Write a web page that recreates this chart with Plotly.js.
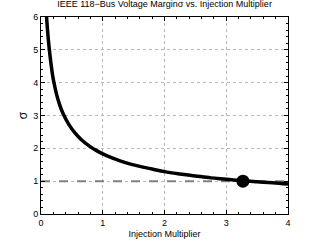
<!DOCTYPE html>
<html><head><meta charset="utf-8">
<script src="https://cdn.plot.ly/plotly-3.0.1.min.js"></script>
<style>html,body{margin:0;padding:0;background:#fff;}#c{width:319px;height:242px;}</style>
</head><body><div id="c"></div>
<script>
// Curve
var multiplier = [0.09, 0.11, 0.13, 0.157, 0.19, 0.21, 0.25, 0.3, 0.35, 0.45, 0.55, 0.65, 0.79, 0.9, 1.0, 1.15, 1.28, 1.45, 1.6, 1.8, 2.0, 2.25, 2.5, 2.75, 3.0, 3.27, 3.5, 3.75, 4.0];
var sigma      = [6.0, 5.5, 5.1, 4.65, 4.2, 4.0, 3.66, 3.34, 3.09, 2.73, 2.47, 2.27, 2.06, 1.93, 1.83, 1.71, 1.62, 1.52, 1.45, 1.37, 1.29, 1.22, 1.16, 1.10, 1.06, 1.01, 0.98, 0.95, 0.91];
// Critical point
var critX = [3.27];
var critY = [1.0];
// Reference threshold line
var threshX = [0, 4];
var threshY = [1, 1];

var traces = [
  {x: threshX, y: threshY, mode: 'lines', line: {color: '#808080', width: 2, dash: 'dash'}, hoverinfo: 'skip'},
  {x: multiplier, y: sigma, mode: 'lines', line: {color: '#000', width: 3.5, shape: 'spline'}, hoverinfo: 'skip'},
  {x: critX, y: critY, mode: 'markers', marker: {color: '#000', size: 13}, hoverinfo: 'skip'}
];

var axisCommon = {
  showline: true, linecolor: '#000', linewidth: 1, mirror: 'ticks',
  ticks: 'inside', ticklen: 4, tickcolor: '#000', tickwidth: 1,
  showgrid: true, gridcolor: '#b8b8b8', griddash: 'dot', gridwidth: 1,
  zeroline: false, tickfont: {family: 'Liberation Sans, Arial, sans-serif', size: 9, color: '#000'},
  minor: {ticks: 'inside', ticklen: 2, tickcolor: '#000', dtick: 0.2, showgrid: false}
};

var layout = {
  width: 319, height: 242,
  margin: {l: 41, r: 31, t: 17, b: 28},
  paper_bgcolor: '#fff', plot_bgcolor: '#fff',
  showlegend: false,
  font: {family: 'Liberation Sans, Arial, sans-serif', color: '#000'},
  title: {text: 'IEEE 118\u2212Bus Voltage Margin\u03c3 vs. Injection Multiplier', font: {size: 9, color: '#000'}, xref: 'paper', x: 0.5, xanchor: 'center', y: 0.998, yanchor: 'top'},
  xaxis: Object.assign({}, axisCommon, {range: [0, 4], dtick: 1, tick0: 0,
    title: {text: 'Injection Multiplier', font: {size: 9}, standoff: 3}}),
  yaxis: Object.assign({}, axisCommon, {range: [0, 6], dtick: 1, tick0: 0,
    title: {text: '\u03c3', font: {size: 12}, standoff: 2}})
};

Plotly.newPlot('c', traces, layout, {staticPlot: true, displayModeBar: false});
</script></body></html>
